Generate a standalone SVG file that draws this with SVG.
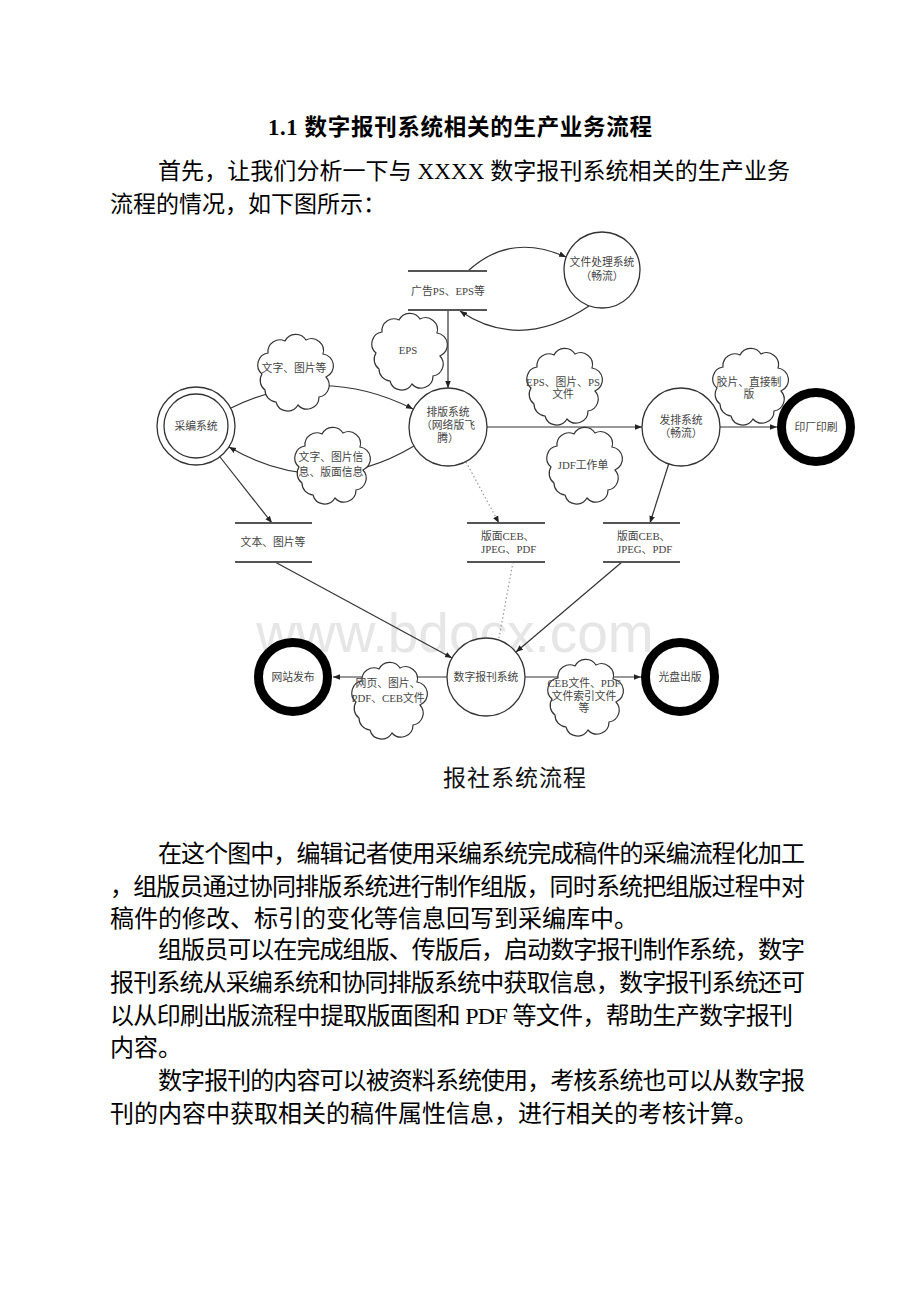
<svg xmlns="http://www.w3.org/2000/svg" width="920" height="1302" viewBox="0 0 920 1302">
<style>
.ln{stroke:#333;stroke-width:1.2;fill:none}
.dot{stroke:#999;stroke-width:1.2;fill:none;stroke-dasharray:1.5 2.5}
.store{stroke:#555;stroke-width:1.8}
.node{fill:#fff;stroke:#333;stroke-width:1.3}
.term{fill:#fff;stroke:#000;stroke-width:9}
.cloud{fill:#fff;stroke:#333;stroke-width:1.2}
.lbl{font-family:"Liberation Serif","Noto Sans CJK SC",serif;font-size:10.8px;fill:#444;text-anchor:middle}
.lbll{font-family:"Liberation Serif","Noto Sans CJK SC",serif;font-size:10.8px;fill:#444}
.body{font-family:"Liberation Serif","Noto Sans CJK SC",serif;font-size:24px;fill:#000}
.p1{font-family:"Liberation Serif","Noto Sans CJK SC",serif;font-size:23px;fill:#000}
</style>
<defs>
<marker id="arr" viewBox="0 0 10 10" refX="10" refY="5" markerWidth="7" markerHeight="7" markerUnits="userSpaceOnUse" orient="auto"><path d="M0,1 L10,5 L0,9 z" fill="#222"/></marker>
<path id="cloud" d="M-32,2 A12,12 0 0 1 -26,-19 A12,12 0 0 1 -9,-31 A12,12 0 0 1 12,-32 A12,12 0 0 1 29,-18 A12,12 0 0 1 32,5 A12,12 0 0 1 25,25 A12,12 0 0 1 4,33 A12,12 0 0 1 -18,30 A12,12 0 0 1 -29,18 A12,12 0 0 1 -32,2 Z"/>
</defs>
<rect width="920" height="1302" fill="#fff"/>

<g id="text-top">
<text x="268" y="135" textLength="384" lengthAdjust="spacing" font-family="Liberation Serif,Noto Sans CJK SC,serif" font-size="22.5" font-weight="bold" fill="#000">1.1 数字报刊系统相关的生产业务流程</text>
<text class="p1" x="158" y="179" textLength="632" lengthAdjust="spacing">首先，让我们分析一下与 XXXX 数字报刊系统相关的生产业务</text>
<text class="p1" x="110" y="212">流程的情况，如下图所示：</text>
</g>

<text id="watermark" x="455" y="652" text-anchor="middle" font-family="Liberation Sans,Arial,sans-serif" font-size="55" fill="#e6e6e6">www.bdocx.com</text>

<g id="connectors">
<path class="ln" d="M468,271 Q510,232 566,257" marker-end="url(#arr)"/>
<path class="ln" d="M589,306 Q520,352 460,311" marker-end="url(#arr)"/>
<path class="ln" d="M448,310 L448,388" marker-end="url(#arr)"/>
<path class="ln" d="M231,408 Q322,363 413,409" marker-end="url(#arr)"/>
<path class="ln" d="M414,446 Q322,501 229,447" marker-end="url(#arr)"/>
<path class="ln" d="M487,427 L642,427" marker-end="url(#arr)"/>
<path class="ln" d="M720,427 L777,427" marker-end="url(#arr)"/>
<path class="ln" d="M220,457 L272,523" marker-end="url(#arr)"/>
<path class="dot" d="M466,462 L499,523" marker-end="url(#arr)"/>
<path class="ln" d="M669,463 L650,523" marker-end="url(#arr)"/>
<path class="ln" d="M275,562 L452,658" marker-end="url(#arr)"/>
<path class="dot" d="M513,562 L499,638"/>
<path class="ln" d="M622,562 L516,652" marker-end="url(#arr)"/>
<path class="ln" d="M447,677 L333,677" marker-end="url(#arr)"/>
<path class="ln" d="M525,677 L641,677" marker-end="url(#arr)"/>
</g>

<g id="store-ad">
<line class="store" x1="408" y1="271" x2="487" y2="271"/>
<line class="store" x1="408" y1="310" x2="487" y2="310"/>
<text class="lbl" x="448" y="295">广告PS、EPS等</text>
</g>
<g id="file-proc">
<circle class="node" cx="602" cy="270" r="38"/>
<text class="lbl" x="602" y="266">文件处理系统<tspan x="602" dy="14">（畅流）</tspan></text>
</g>
<g id="cloud-eps">
<use href="#cloud" x="408" y="351" class="cloud"/>
<text class="lbl" x="408" y="354">EPS</text>
</g>
<g id="caibian">
<circle class="node" cx="196" cy="426" r="39"/>
<circle class="node" cx="196" cy="426" r="32"/>
<text class="lbl" x="196" y="430" font-size="11.5">采编系统</text>
</g>
<g id="paiban">
<circle class="node" cx="448" cy="427" r="39"/>
<text class="lbl" x="448" y="416">排版系统<tspan x="448" dy="13">（网络版飞</tspan><tspan x="448" dy="13">腾）</tspan></text>
</g>
<g id="cloud-text-img">
<use href="#cloud" x="294" y="372" class="cloud"/>
<text class="lbl" x="294" y="372">文字、图片等</text>
</g>
<g id="cloud-text-info">
<use href="#cloud" x="331" y="465" class="cloud"/>
<text class="lbl" x="331" y="461">文字、图片信<tspan x="331" dy="15">息、版面信息</tspan></text>
</g>
<g id="cloud-eps-ps">
<use href="#cloud" x="563" y="386" class="cloud"/>
<text class="lbl" x="563" y="386">EPS、图片、PS<tspan x="563" dy="12">文件</tspan></text>
</g>
<g id="cloud-jdf">
<use href="#cloud" x="583" y="465" class="cloud"/>
<text class="lbl" x="583" y="469">JDF工作单</text>
</g>
<g id="fapai">
<circle class="node" cx="681" cy="427" r="39"/>
<text class="lbl" x="681" y="424" font-size="11.5">发排系统<tspan x="681" dy="13">（畅流）</tspan></text>
</g>
<g id="cloud-film">
<use href="#cloud" x="749" y="386" class="cloud"/>
<text class="lbl" x="749" y="386">胶片、直接制<tspan x="749" dy="12">版</tspan></text>
</g>
<g id="print">
<circle class="term" cx="816" cy="427" r="34.5"/>
<text class="lbl" x="816" y="431">印厂印刷</text>
</g>
<g id="store-text">
<line class="store" x1="235" y1="523" x2="312" y2="523"/>
<line class="store" x1="235" y1="562" x2="312" y2="562"/>
<text class="lbl" x="273" y="546">文本、图片等</text>
</g>
<g id="store-page-mid">
<line class="store" x1="467" y1="523" x2="545" y2="523"/>
<line class="store" x1="467" y1="562" x2="545" y2="562"/>
<text class="lbll" x="481" y="540">版面CEB、<tspan x="481" dy="13">JPEG、PDF</tspan></text>
</g>
<g id="store-page-right">
<line class="store" x1="603" y1="523" x2="680" y2="523"/>
<line class="store" x1="603" y1="562" x2="680" y2="562"/>
<text class="lbll" x="617" y="540">版面CEB、<tspan x="617" dy="13">JPEG、PDF</tspan></text>
</g>
<g id="digital">
<circle class="node" cx="486" cy="677" r="39"/>
<text class="lbl" x="486" y="681" font-size="11.5">数字报刊系统</text>
</g>
<g id="web">
<circle class="term" cx="293" cy="677" r="34.5"/>
<text class="lbl" x="293" y="681" font-size="11.5">网站发布</text>
</g>
<g id="disc">
<circle class="term" cx="680" cy="677" r="34.5"/>
<text class="lbl" x="680" y="681" font-size="11.5">光盘出版</text>
</g>
<g id="cloud-web">
<use href="#cloud" x="388" y="700" class="cloud"/>
<text class="lbl" x="388" y="687">网页、图片、<tspan x="388" dy="15">PDF、CEB文件</tspan></text>
</g>
<g id="cloud-ceb">
<use href="#cloud" x="584" y="697" class="cloud"/>
<text class="lbl" x="584" y="687">CEB文件、PDF<tspan x="584" dy="13">文件索引文件</tspan><tspan x="584" dy="12">等</tspan></text>
</g>

<text id="caption" x="515" y="786" text-anchor="middle" font-family="Noto Sans CJK SC,sans-serif" font-size="23" letter-spacing="1" fill="#111">报社系统流程</text>

<g id="text-body">
<text class="body" x="158" y="862" textLength="647" lengthAdjust="spacing">在这个图中，编辑记者使用采编系统完成稿件的采编流程化加工</text>
<text class="body" x="110" y="895" textLength="695" lengthAdjust="spacing">，组版员通过协同排版系统进行制作组版，同时系统把组版过程中对</text>
<text class="body" x="110" y="927">稿件的修改、标引的变化等信息回写到采编库中。</text>
<text class="body" x="158" y="958" textLength="647" lengthAdjust="spacing">组版员可以在完成组版、传版后，启动数字报刊制作系统，数字</text>
<text class="body" x="110" y="991" textLength="695" lengthAdjust="spacing">报刊系统从采编系统和协同排版系统中获取信息，数字报刊系统还可</text>
<text class="body" x="110" y="1024" textLength="683" lengthAdjust="spacing">以从印刷出版流程中提取版面图和 PDF 等文件，帮助生产数字报刊</text>
<text class="body" x="110" y="1056">内容。</text>
<text class="body" x="158" y="1089" textLength="647" lengthAdjust="spacing">数字报刊的内容可以被资料系统使用，考核系统也可以从数字报</text>
<text class="body" x="110" y="1122">刊的内容中获取相关的稿件属性信息，进行相关的考核计算。</text>
</g>
</svg>
